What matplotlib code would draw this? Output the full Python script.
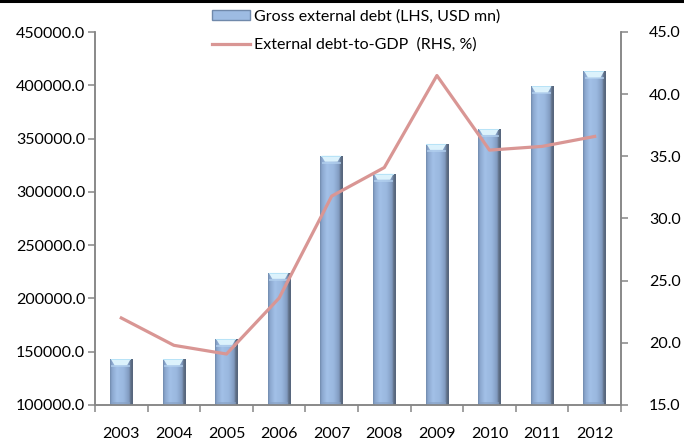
import matplotlib.pyplot as plt
import numpy as np
from matplotlib.colors import LinearSegmentedColormap
from matplotlib.lines import Line2D
from matplotlib.patches import Polygon, Rectangle

plt.rcParams['font.family'] = ['Lato', 'DejaVu Sans']

years = ['2003', '2004', '2005', '2006', '2007', '2008', '2009', '2010', '2011', '2012']
gross_debt = [143000, 143000, 162000, 224000, 334000, 317000, 345000, 359000, 399000, 413000]
debt_to_gdp = [22.0, 19.8, 19.1, 23.6, 31.8, 34.1, 41.5, 35.5, 35.8, 36.6]

bar_label = 'Gross external debt (LHS, USD mn)'
line_label = 'External debt-to-GDP  (RHS, %)'

axis_grey = '#868686'
line_color = '#d99694'

# horizontal shading for the cylinder look of the bars
bar_cmap = LinearSegmentedColormap.from_list('cyl', [
    (0.0, '#6d86a8'), (0.08, '#8aa6cd'), (0.3, '#a2c0e7'), (0.6, '#9ab8df'),
    (0.84, '#809abf'), (0.9, '#5f6f86'), (1.0, '#55647a')])

fig = plt.figure(figsize=(6.84, 4.42), dpi=100)
ax = fig.add_axes([95 / 684, 37 / 442, 526 / 684, 373 / 442])
ax2 = ax.twinx()

x = np.arange(len(years))
width = 0.43
bars = ax.bar(x, gross_debt, width, color='none', edgecolor='none', zorder=2)

ax.set_xlim(-0.5, len(years) - 0.5)
ax.set_ylim(100000, 450000)
ax2.set_ylim(15, 45)

# value per pixel, used to size the light cap on top of each bar
fig.canvas.draw()
ax_h_px = ax.get_window_extent().height
per_px = (450000 - 100000) / ax_h_px

grad = np.linspace(0, 1, 256).reshape(1, -1)
for rect in bars:
    x0 = rect.get_x()
    w = rect.get_width()
    top = rect.get_height()
    img = ax.imshow(grad, cmap=bar_cmap, aspect='auto', zorder=2,
                    extent=[x0, x0 + w, 100000, top], interpolation='bicubic')
    clip = Rectangle((x0, 100000), w, top - 100000, transform=ax.transData)
    img.set_clip_path(clip)
    # slightly darker band at the base
    ax.add_patch(Rectangle((x0 + w * 0.08, 100000), w * 0.82, 3 * per_px,
                           facecolor='#86a0c4', edgecolor='none', alpha=0.6, zorder=3))
    # light cap
    cap_h = 6 * per_px
    ax.add_patch(Rectangle((x0 + w * 0.05, top - cap_h - 2 * per_px), w * 0.85, 2 * per_px,
                           facecolor='#b4d2f0', edgecolor='none', alpha=0.7, zorder=3))
    cap = Polygon([(x0 + w * 0.04, top), (x0 + w * 0.91, top),
                   (x0 + w * 0.76, top - cap_h), (x0 + w * 0.2, top - cap_h)],
                  closed=True, facecolor='#dcf2fc', edgecolor='none', zorder=3)
    ax.add_patch(cap)
    ax.add_patch(Rectangle((x0 + w * 0.04, top - per_px), w * 0.87, per_px,
                           facecolor='#b8e3f7', edgecolor='none', zorder=3))

ax2.plot(x, debt_to_gdp, color=line_color, linewidth=2.3, zorder=4)

ax.set_yticks(np.arange(100000, 450001, 50000))
ax.set_yticklabels([f'{v:.1f}' for v in np.arange(100000, 450001, 50000)])
ax2.set_yticks(np.arange(15, 46, 5))
ax2.set_yticklabels([f'{v:.1f}' for v in np.arange(15, 46, 5)])

ax.set_xticks(x)
ax.set_xticklabels(years)
ax.set_xticks(np.arange(-0.5, len(years) + 0.5, 1), minor=True)
ax.tick_params(axis='x', which='major', length=0, pad=16, labelsize=11.5, colors='black')
ax.tick_params(axis='x', which='minor', length=5, width=1.1, color=axis_grey)
ax.tick_params(axis='y', length=5, width=1.1, color=axis_grey, labelsize=11.5, pad=2)
ax2.tick_params(axis='y', length=5, width=1.1, color=axis_grey, labelsize=11.5, pad=15)

for a in (ax, ax2):
    a.spines['top'].set_visible(False)
    for s in ('left', 'right', 'bottom'):
        a.spines[s].set_color(axis_grey)
        a.spines[s].set_linewidth(1.1)

handles = [Rectangle((0, 0), 1, 1, facecolor='#9dbbe2', edgecolor='#7089ab', linewidth=1),
           Line2D([], [], color=line_color, linewidth=2.3)]
fig.legend(handles, [bar_label, line_label], loc='upper left',
           bbox_to_anchor=(212 / 684, 1 - 9 / 442), frameon=False, fontsize=11.5,
           handlelength=2.4, handleheight=0.6, handletextpad=0.2, labelspacing=0.9,
           borderpad=0, borderaxespad=0)

# black rule along the top edge
fig.add_artist(Line2D([0, 1], [1 - 1 / 442, 1 - 1 / 442], transform=fig.transFigure,
                      color='black', linewidth=2.2))

fig.savefig('out.png', dpi=100)
